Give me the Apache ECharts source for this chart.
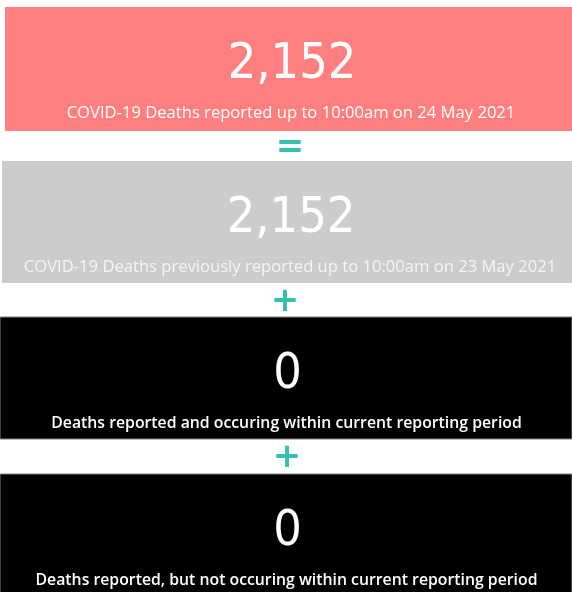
<!DOCTYPE html>
<html>
<head>
<meta charset="utf-8">
<script src="https://cdn.jsdelivr.net/npm/echarts@6/dist/echarts.min.js"></script>
<style>
html,body{margin:0;padding:0;background:#fff;}
#chart{width:572px;height:592px;}
</style>
</head>
<body>
<div id="chart"></div>
<script>
const values = [2152, 2152, 0, 0];
const captions = [
  'COVID-19 Deaths reported up to 10:00am on 24 May 2021',
  'COVID-19 Deaths previously reported up to 10:00am on 23 May 2021',
  'Deaths reported and occuring within current reporting period',
  'Deaths reported, but not occuring within current reporting period'
];
const operators = ['=', '+', '+'];

// layout (styles, not data)
const cards = [
  {x: 5, y: 7, w: 567, h: 124, cx: 291, fill: '#FE7F7E', num: '#ffffff', cap: '#ffffff', capFont: 'normal 16.6px "Open Sans", sans-serif'},
  {x: 2, y: 161, w: 570, h: 122, cx: 290, fill: '#CCCCCC', num: '#ffffff', cap: '#f4f4f4', capFont: 'normal 16.6px "Open Sans", sans-serif'},
  {x: 0, y: 317, w: 572, h: 122, cx: 286.5, fill: '#000000', num: '#ffffff', cap: '#ffffff', capFont: '600 15.8px "Open Sans", sans-serif'},
  {x: 0, y: 474, w: 572, h: 122, cx: 286.5, fill: '#000000', num: '#ffffff', cap: '#ffffff', capFont: '600 15.8px "Open Sans", sans-serif'}
];
const ops = [{x: 290, y: 148}, {x: 285, y: 302}, {x: 287, y: 458}];
const teal = '#35BFAF';

const fmt = v => v.toLocaleString('en-US');
const elements = [];
cards.forEach((c, i) => {
  elements.push({
    type: 'rect',
    shape: {x: c.x, y: c.y, width: c.w, height: c.h},
    style: {fill: c.fill, stroke: i >= 2 ? '#808080' : null, lineWidth: i >= 2 ? 1 : 0}
  });
  elements.push({
    type: 'text',
    x: c.cx + 1, y: c.y + 58,
    style: {
      text: fmt(values[i]),
      fill: c.num,
      font: 'normal 50px "DejaVu Sans Condensed", "DejaVu Sans"',
      align: 'center', verticalAlign: 'middle'
    }
  });
  elements.push({
    type: 'text',
    x: c.cx, y: c.y + 106,
    style: {
      text: captions[i],
      fill: c.cap,
      font: c.capFont,
      align: 'center', verticalAlign: 'middle'
    }
  });
});
operators.forEach((op, i) => {
  elements.push({
    type: 'text',
    x: ops[i].x, y: ops[i].y,
    style: {
      text: op,
      fill: teal,
      font: 'bold 34px "DejaVu Sans", sans-serif',
      align: 'center', verticalAlign: 'middle'
    }
  });
});

const chart = echarts.init(document.getElementById('chart'), null, {renderer: 'canvas'});
chart.setOption({
  animation: false,
  graphic: {elements: elements}
});
</script>
</body>
</html>
